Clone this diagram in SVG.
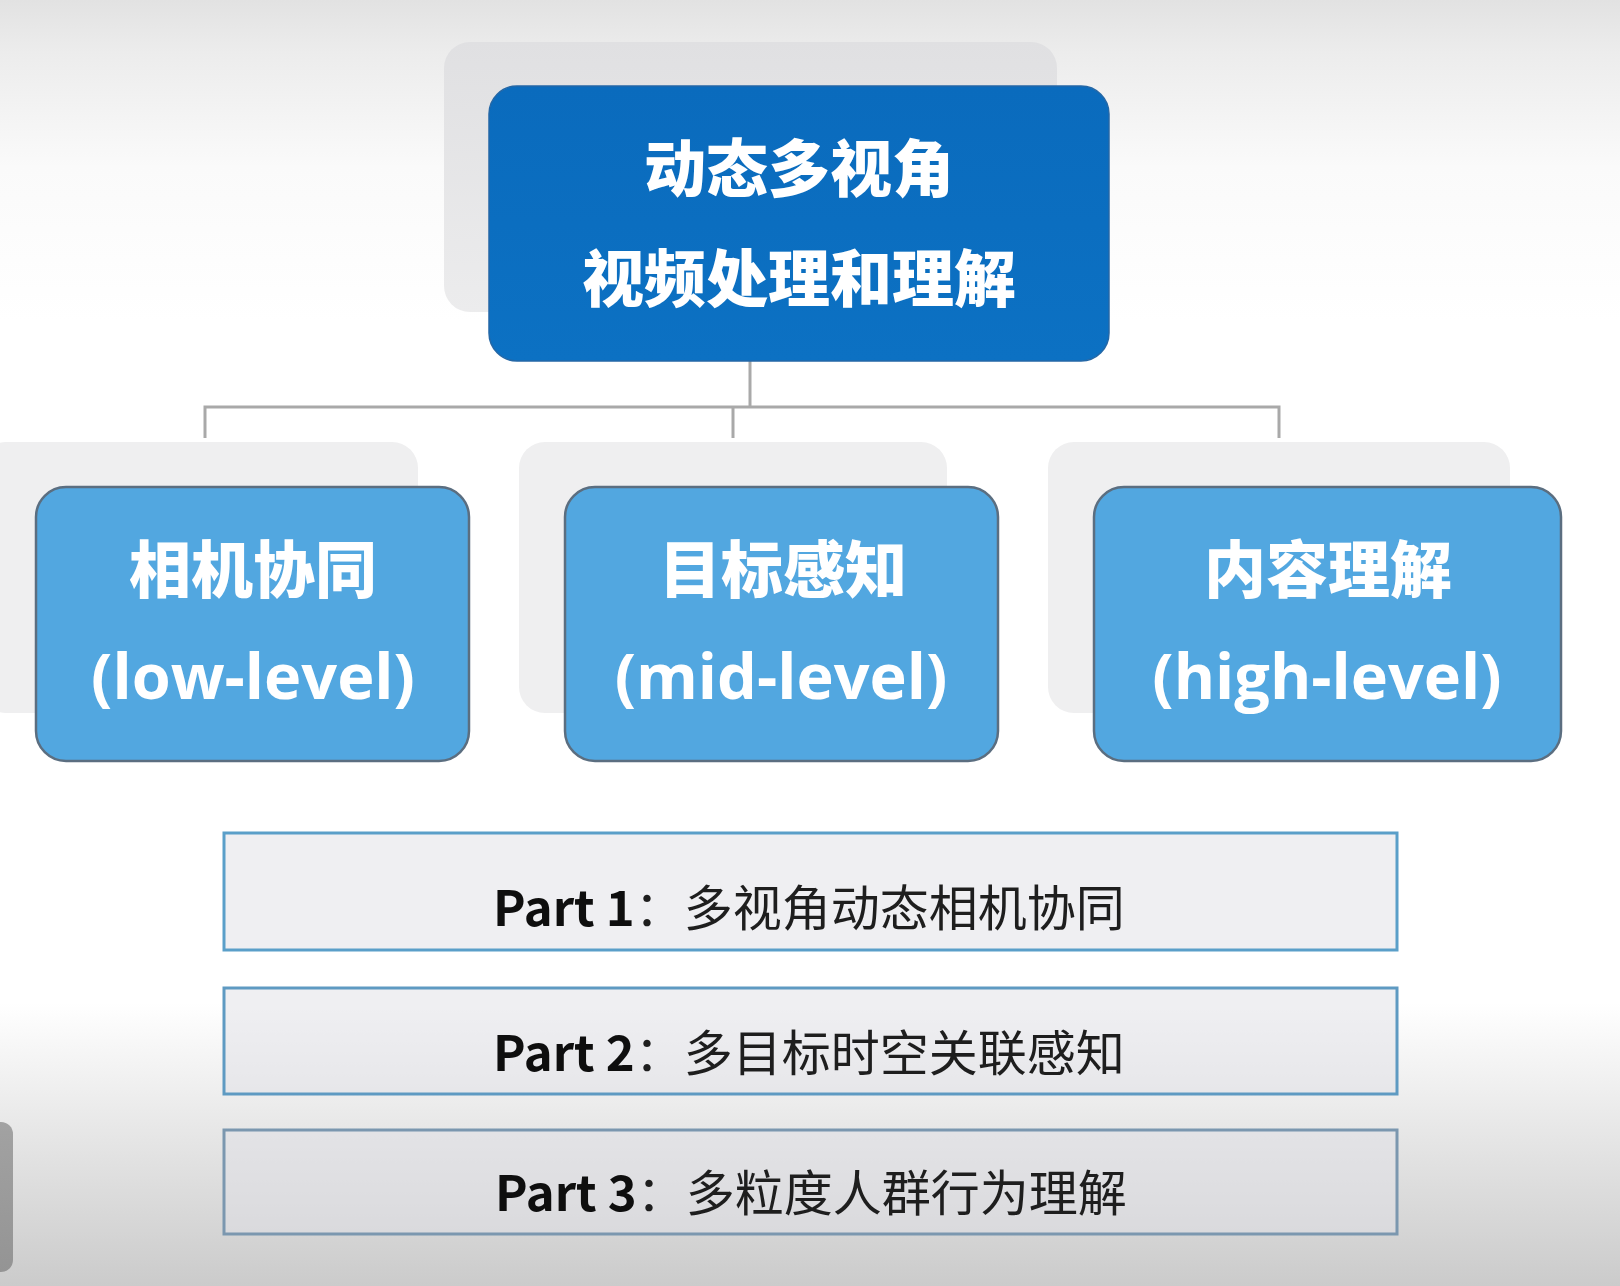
<svg xmlns="http://www.w3.org/2000/svg" width="1620" height="1286" viewBox="0 0 1620 1286">
  <defs>
    <linearGradient id="bg" x1="0" y1="0" x2="0" y2="1">
      <stop offset="0" stop-color="#e2e2e2"/>
      <stop offset="0.04" stop-color="#ececec"/>
      <stop offset="0.13" stop-color="#fafafa"/>
      <stop offset="0.25" stop-color="#ffffff"/>
      <stop offset="0.78" stop-color="#ffffff"/>
      <stop offset="0.9" stop-color="#e2e2e2"/>
      <stop offset="1" stop-color="#cbcbcb"/>
    </linearGradient>
    <linearGradient id="mainFill" x1="0" y1="0" x2="0" y2="1">
      <stop offset="0" stop-color="#0a6bbd"/>
      <stop offset="1" stop-color="#0c71c3"/>
    </linearGradient>
    <linearGradient id="backFill" x1="0" y1="0" x2="0" y2="1">
      <stop offset="0" stop-color="#e0e0e2"/>
      <stop offset="1" stop-color="#ececed"/>
    </linearGradient>
    <linearGradient id="tab" x1="0" y1="0" x2="0" y2="1">
      <stop offset="0" stop-color="#a2a2a2"/>
      <stop offset="1" stop-color="#949494"/>
    </linearGradient>
    <style>
      .back { fill: #efeff0; }
      .lvl { fill: #52a7e0; stroke: #5b6e80; stroke-width: 2.5; }
      .head { font-family: "Noto Sans CJK SC", sans-serif; font-weight: 900; font-size: 62px; fill: #ffffff; text-anchor: middle; }
      .sub { font-family: "Open Sans", "Noto Sans CJK SC", sans-serif; font-weight: 700; font-size: 63px; fill: #ffffff; text-anchor: middle; }
      .part { fill: #e0e0e6; fill-opacity: 0.5; stroke-width: 3; }
      .ptxt { font-family: "Noto Sans CJK SC", sans-serif; font-size: 49px; fill: #1e1e1e; }
      .pb { font-weight: 700; fill: #0e0e0e; }
      .conn { fill: none; stroke: #a9a9a9; stroke-width: 3; }
    </style>
  </defs>

  <rect x="0" y="0" width="1620" height="1286" fill="url(#bg)"/>
  <rect x="-20" y="1122" width="33" height="150" rx="12" fill="url(#tab)"/>

  <!-- tree connectors -->
  <g id="connectors">
    <path class="conn" d="M750 361 V407"/>
    <path class="conn" d="M205 438 V407 H1279 V438"/>
    <path class="conn" d="M733 407 V438"/>
  </g>

  <!-- root -->
  <g id="root">
    <rect x="444" y="42" width="613" height="270" rx="26" fill="url(#backFill)"/>
    <rect x="489" y="86" width="620" height="275" rx="28" fill="url(#mainFill)" stroke="#2467a6" stroke-width="1.5"/>
    <text class="head" x="799" y="192">动态多视角</text>
    <text class="head" x="799" y="302">视频处理和理解</text>
  </g>

  <!-- level nodes -->
  <g id="low-level">
    <rect class="back" x="-20" y="442" width="438" height="271" rx="26"/>
    <rect class="lvl" x="36" y="487" width="433" height="274" rx="30"/>
    <text class="head" x="253" y="593">相机协同</text>
    <text class="sub" x="253" y="699">(low-level)</text>
  </g>
  <g id="mid-level">
    <rect class="back" x="519" y="442" width="428" height="271" rx="26"/>
    <rect class="lvl" x="565" y="487" width="433" height="274" rx="30"/>
    <text class="head" x="783" y="593">目标感知</text>
    <text class="sub" x="781" y="699">(mid-level)</text>
  </g>
  <g id="high-level">
    <rect class="back" x="1048" y="442" width="462" height="271" rx="26"/>
    <rect class="lvl" x="1094" y="487" width="467" height="274" rx="30"/>
    <text class="head" x="1328" y="593">内容理解</text>
    <text class="sub" x="1327" y="699">(high-level)</text>
  </g>

  <!-- part list -->
  <g id="part1">
    <rect class="part" x="224" y="833" width="1173" height="117" stroke="#5a9fc9"/>
    <text class="ptxt" x="493" y="926"><tspan class="pb">Part 1</tspan>：多视角动态相机协同</text>
  </g>
  <g id="part2">
    <rect class="part" x="224" y="988" width="1173" height="106" stroke="#5e9ac2"/>
    <text class="ptxt" x="493" y="1071"><tspan class="pb">Part 2</tspan>：多目标时空关联感知</text>
  </g>
  <g id="part3">
    <rect class="part" x="224" y="1130" width="1173" height="104" stroke="#7b97af"/>
    <text class="ptxt" x="495" y="1211"><tspan class="pb">Part 3</tspan>：多粒度人群行为理解</text>
  </g>
</svg>
